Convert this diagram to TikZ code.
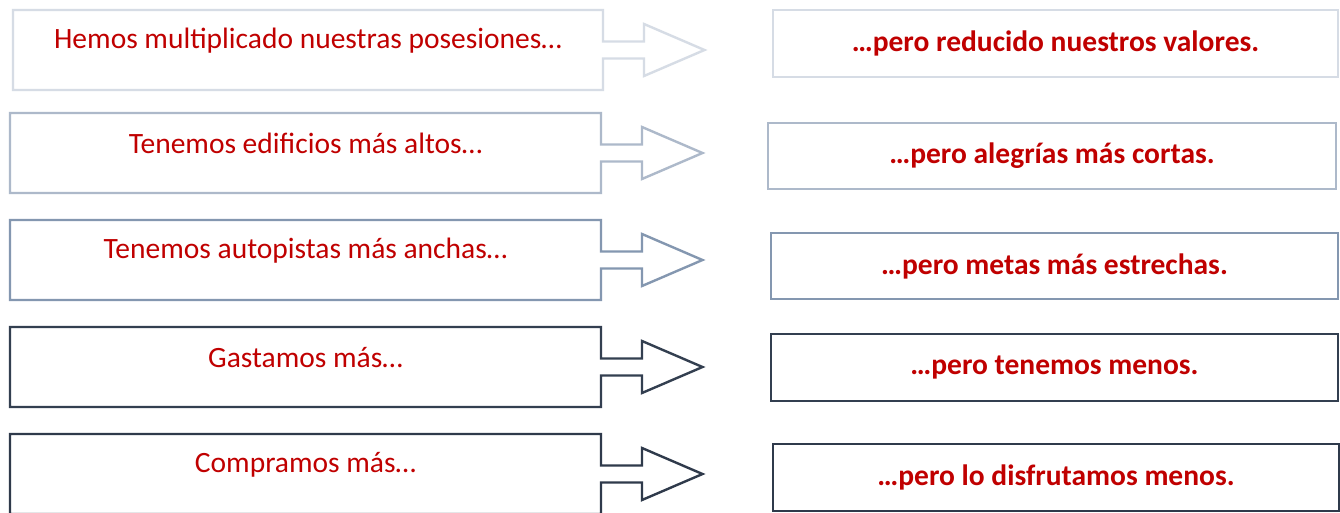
\documentclass[tikz,border=0pt]{standalone}
\usepackage{fontspec}
\setmainfont{Carlito}
\definecolor{cA}{HTML}{D6DCE5}
\definecolor{cB}{HTML}{ADB9CA}
\definecolor{cC}{HTML}{8497B0}
\definecolor{cD}{HTML}{333F50}
\definecolor{cE}{HTML}{2F3A4B}
\definecolor{txtred}{HTML}{C00000}
\newcommand\leftarrowbox[6]{%
  % #1 name, #2 left, #3 right, #4 center y, #5 colour, #6 text
  \draw[lshape,draw=#5] (#2,#4-40) -- (#3,#4-40) -- (#3,#4-8.5) -- (#3+41,#4-8.5)
    -- (#3+41,#4-26) -- (#3+101.5,#4) -- (#3+41,#4+26) -- (#3+41,#4+8.5)
    -- (#3,#4+8.5) -- (#3,#4+40) -- (#2,#4+40) -- cycle;
  \node[ltext] (#1) at ({(#2+#3)/2},#4-9.5) {#6};}
\begin{document}
\begin{tikzpicture}[x=1pt,y=-1pt,
  lshape/.style={line width=2.4pt,line join=miter},
  ltext/.style={font=\fontsize{29.5}{34}\selectfont,text=txtred,inner sep=0pt},
  rbox/.style={draw,line width=2.4pt,fill=white,font=\bfseries\fontsize{29.5}{34}\selectfont,text=txtred,inner sep=0pt,outer sep=0pt}]
\useasboundingbox[fill=white] (0,0) rectangle (1340,512);
\leftarrowbox{t1}{13}{603}{50}{cA}{Hemos multiplicado nuestras posesiones…}
\leftarrowbox{t2}{10}{601}{153}{cB}{Tenemos edificios más altos…}
\leftarrowbox{t3}{10}{601}{260}{cC}{Tenemos autopistas más anchas…}
\leftarrowbox{t4}{10}{601}{367}{cD}{Gastamos más…}
\leftarrowbox{t5}{10}{601}{474}{cE}{Compramos más…}
\node[rbox,draw=cA,minimum width=565pt,minimum height=67pt] (r1) at (1055.5,43.5) {…pero reducido nuestros valores.};
\node[rbox,draw=cB,minimum width=568pt,minimum height=66pt] (r2) at (1052,156) {…pero alegrías más cortas.};
\node[rbox,draw=cC,minimum width=567pt,minimum height=66pt] (r3) at (1054.5,266) {…pero metas más estrechas.};
\node[rbox,draw=cD,minimum width=567pt,minimum height=67pt] (r4) at (1054.5,367.5) {…pero tenemos menos.};
\node[rbox,draw=cE,minimum width=566pt,minimum height=67pt] (r5) at (1056,477.5) {…pero lo disfrutamos menos.};
\end{tikzpicture}
\end{document}
